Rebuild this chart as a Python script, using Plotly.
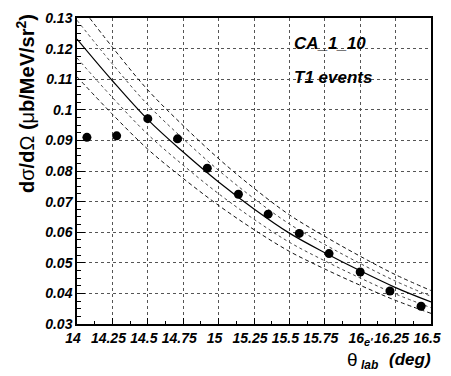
import plotly.graph_objects as go

# Measured cross section per angular bin
theta_bins = [14.07, 14.28, 14.50, 14.71, 14.92, 15.14, 15.35, 15.57, 15.78, 16.00, 16.21, 16.43]
xsec_meas = [0.0910, 0.0915, 0.0971, 0.0905, 0.0809, 0.0724, 0.0659, 0.0596, 0.0530, 0.0470, 0.0408, 0.0358]

# Model prediction (central curve)
theta_model = [14.0, 14.25, 14.5, 14.75, 15.0, 15.25, 15.5, 15.75, 16.0, 16.25, 16.5]
xsec_model = [0.1231, 0.1095, 0.0968, 0.0862, 0.0764, 0.0676, 0.0597, 0.0533, 0.0474, 0.0419, 0.0372]

# Relative uncertainty bands drawn around the model
band_inner = 0.05
band_outer = 0.10

W, H = 451, 376
L, R, T, B = 77, 11, 10, 52
PW, PH = W - L - R, H - T - B


def px(x):
    return (x - L) / PW


def py(y):
    return (H - B - y) / PH


FONT = "Liberation Sans, Arial, Helvetica, sans-serif"

fig = go.Figure()

for frac, dash, color in [(band_outer, "4px,3px", "#111"), (band_inner, "dot", "#444")]:
    for sign in (1, -1):
        fig.add_trace(go.Scatter(
            x=theta_model,
            y=[v * (1 + sign * frac) for v in xsec_model],
            mode="lines", line=dict(color=color, width=1, dash=dash, shape="spline"),
            hoverinfo="skip", showlegend=False))

fig.add_trace(go.Scatter(
    x=theta_model, y=xsec_model, mode="lines",
    line=dict(color="black", width=1.2, shape="spline"), showlegend=False))

fig.add_trace(go.Scatter(
    x=theta_bins, y=xsec_meas, mode="markers",
    marker=dict(color="black", size=9, symbol="circle"), showlegend=False))

tickfont = dict(family=FONT, size=14, color="black", weight="bold", style="italic")

fig.update_xaxes(
    range=[14, 16.5], dtick=0.25, tick0=14,
    showline=True, linecolor="black", linewidth=1.5, mirror=True,
    ticks="inside", ticklen=6, tickwidth=1, tickcolor="black",
    minor=dict(dtick=0.125, ticks="inside", ticklen=3, tickcolor="black", showgrid=False),
    showgrid=True, gridcolor="#555", griddash="dot", gridwidth=1,
    tickfont=tickfont, zeroline=False,
    ticklabeloverflow="allow", ticklabelshift=-4, ticklabelstandoff=0)

fig.update_yaxes(
    range=[0.03, 0.13], dtick=0.01, tick0=0.03,
    showline=True, linecolor="black", linewidth=1.5, mirror=True,
    ticks="inside", ticklen=8, tickwidth=1, tickcolor="black",
    minor=dict(dtick=0.0025, ticks="inside", ticklen=4, tickcolor="black", showgrid=False),
    showgrid=True, gridcolor="#555", griddash="dot", gridwidth=1,
    tickfont=tickfont, zeroline=False, ticklabeloverflow="allow")

bi = dict(family=FONT, color="black", weight="bold", style="italic")
ann = [
    dict(text="CA_1_10", x=px(297), y=py(36), xanchor="left", yanchor="middle",
         font=dict(size=17, **bi)),
    dict(text="T1 events", x=px(297), y=py(71), xanchor="left", yanchor="middle",
         font=dict(size=17, **bi)),
    # y-axis title
    dict(text="<b>d</b>σ<b>/d</b>Ω<b> (</b>μ<b>b/MeV/sr<sup>2</sup>)</b>",
         x=px(24), y=py(4), xanchor="center", yanchor="top", textangle=-90,
         font=dict(family=FONT, size=20, color="black")),
    # x-axis title pieces
    dict(text="θ", x=px(352), y=py(360), xanchor="left", yanchor="middle",
         font=dict(family=FONT, size=19, color="black")),
    dict(text="e'", x=px(369), y=py(342), xanchor="left", yanchor="middle",
         font=dict(size=11, **bi)),
    dict(text="lab", x=px(366), y=py(366), xanchor="left", yanchor="middle",
         font=dict(size=12, **bi)),
    dict(text="(deg)", x=px(442), y=py(360), xanchor="right", yanchor="middle",
         font=dict(size=17, **bi)),
]
for a in ann:
    a.update(xref="paper", yref="paper", showarrow=False)
fig.update_layout(annotations=ann)

fig.update_layout(
    width=W, height=H, margin=dict(l=L, r=R, t=T, b=B),
    paper_bgcolor="white", plot_bgcolor="white",
    font=dict(family=FONT))

fig.write_html("out.html")
